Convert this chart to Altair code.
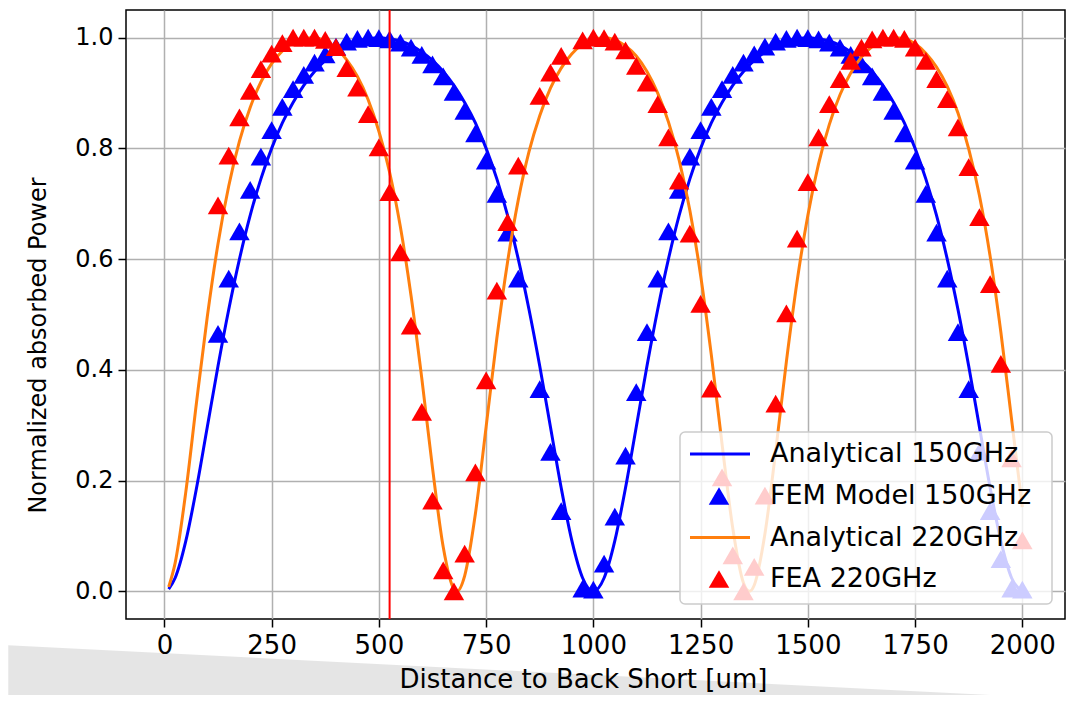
import altair as alt
import pandas as pd

# ---------------- data ----------------
# analytical curves (sample positions in um)
x_a150 = [10] + list(range(25, 2001, 25))
analytical_150 = [0.004,
    0.024, 0.091, 0.187, 0.297, 0.407, 0.509, 0.600, 0.679, 0.745, 0.800,
    0.846, 0.883, 0.914, 0.939, 0.959, 0.974, 0.986, 0.994, 0.998, 1.000,
    0.998, 0.994, 0.986, 0.974, 0.959, 0.939, 0.914, 0.883, 0.846, 0.800,
    0.745, 0.679, 0.600, 0.509, 0.407, 0.297, 0.187, 0.091, 0.024, 0.000,
    0.024, 0.091, 0.187, 0.297, 0.407, 0.509, 0.600, 0.679, 0.745, 0.800,
    0.846, 0.883, 0.914, 0.939, 0.959, 0.974, 0.986, 0.994, 0.998, 1.000,
    0.998, 0.994, 0.986, 0.974, 0.959, 0.939, 0.914, 0.883, 0.846, 0.800,
    0.745, 0.679, 0.600, 0.509, 0.407, 0.297, 0.187, 0.091, 0.024, 0.000]

x_a220 = ([10] + list(range(25, 676, 25)) + [682] + list(range(700, 1351, 25))
          + [1364] + list(range(1375, 2001, 25)))
analytical_220 = [0.008,
    0.051, 0.180, 0.342, 0.496, 0.628, 0.732, 0.813, 0.874, 0.920, 0.953,
    0.976, 0.991, 0.999, 1.000, 0.994, 0.981, 0.960, 0.930, 0.888, 0.831,
    0.757, 0.659, 0.534, 0.385, 0.223, 0.080, 0.004, 0.000,
    0.028, 0.140, 0.297, 0.457, 0.595, 0.707, 0.794, 0.859, 0.909, 0.945,
    0.971, 0.988, 0.997, 1.000, 0.996, 0.985, 0.967, 0.939, 0.900, 0.848,
    0.779, 0.688, 0.571, 0.427, 0.266, 0.114, 0.015, 0.000,
    0.011, 0.104, 0.253, 0.415, 0.560, 0.679, 0.772, 0.843, 0.897, 0.936,
    0.965, 0.984, 0.995, 1.000, 0.998, 0.989, 0.972, 0.947, 0.912, 0.864,
    0.799, 0.715, 0.605, 0.468, 0.310, 0.152]

# simulated points (no points at 850 and 950 um)
x_fem = list(range(125, 826, 25)) + [875, 900, 925] + list(range(975, 2001, 25))
fem_150 = [
    0.465, 0.565, 0.650, 0.725, 0.785, 0.833, 0.875, 0.907, 0.933, 0.955,
    0.970, 0.984, 0.993, 0.998, 1.000, 0.999, 0.997, 0.991, 0.982, 0.969,
    0.952, 0.930, 0.902, 0.868, 0.827, 0.778, 0.718, 0.648, 0.565,
    0.365, 0.252, 0.145,
    0.005, 0.003, 0.050, 0.135, 0.245, 0.360, 0.468,
    0.565, 0.650, 0.725, 0.785, 0.833, 0.875, 0.907, 0.933, 0.955, 0.970,
    0.984, 0.993, 0.998, 1.000, 0.999, 0.997, 0.991, 0.982, 0.969, 0.952,
    0.930, 0.902, 0.868, 0.827, 0.778, 0.718, 0.648, 0.565, 0.468, 0.365,
    0.252, 0.145, 0.058, 0.005, 0.003]
fea_220 = [
    0.697, 0.787, 0.856, 0.904, 0.943, 0.971, 0.990, 1.000, 1.000, 1.000,
    0.996, 0.983, 0.945, 0.910, 0.862, 0.802, 0.721, 0.612, 0.480, 0.324,
    0.164, 0.038, 0.000, 0.068, 0.215, 0.381, 0.543, 0.667, 0.769,
    0.895, 0.937, 0.967,
    0.995, 1.000, 0.999, 0.993, 0.977, 0.949, 0.919, 0.880, 0.820, 0.742,
    0.646, 0.519, 0.366, 0.206, 0.065, 0.000, 0.044, 0.173, 0.339, 0.502,
    0.637, 0.739, 0.820, 0.880, 0.925, 0.958, 0.982, 0.997, 1.000, 1.000,
    0.998, 0.982, 0.958, 0.925, 0.889, 0.838, 0.766, 0.676, 0.555, 0.411,
    0.240, 0.092]

marker_x = [525]

x_ticks = [0, 250, 500, 750, 1000, 1250, 1500, 1750, 2000]
y_ticks = [0.0, 0.2, 0.4, 0.6, 0.8, 1.0]

legend_labels = ["Analytical 150GHz", "FEM Model 150GHz",
                 "Analytical 220GHz", "FEA 220GHz"]

# light page shadow below the axes (slide background), in data units
shadow_x = [-364, 1944]
shadow_top = [-0.0975, -0.188]
shadow_bottom = [-0.25, -0.25]

BLUE = "#0000ff"
ORANGE = "#ff7f0e"
RED = "#ff0000"
FONT = "DejaVu Sans"

W, H = 939, 609

df150 = pd.DataFrame({"x": x_a150, "y": analytical_150})
df220 = pd.DataFrame({"x": x_a220, "y": analytical_220})
dffem = pd.DataFrame({"x": x_fem, "y": fem_150})
dffea = pd.DataFrame({"x": x_fem, "y": fea_220})
dfmark = pd.DataFrame({"x": marker_x})
dfshadow = pd.DataFrame({"x": shadow_x, "y": shadow_top, "y2": shadow_bottom})

xscale = alt.Scale(domain=[-89.5, 2099.5], nice=False, zero=False)
yscale = alt.Scale(domain=[-0.05, 1.05], nice=False, zero=False)

xaxis = alt.Axis(values=x_ticks, title="Distance to Back Short [um]",
                 grid=True, format="d", labelFontSize=26, titleFontSize=26,
                 titleX=457, titleY=47)
yaxis = alt.Axis(values=y_ticks, title="Normalized absorbed Power",
                 grid=True, format=".1f", labelFontSize=24, titleFontSize=24,
                 titleY=335, titlePadding=24)

X = alt.X("x:Q", scale=xscale, axis=xaxis)
Y = alt.Y("y:Q", scale=yscale, axis=yaxis)
Xn = alt.X("x:Q", scale=xscale)
Yn = alt.Y("y:Q", scale=yscale)

shadow = alt.Chart(dfshadow).mark_area(color="black", opacity=0.1, clip=False).encode(
    x=Xn, y=Yn, y2=alt.Y2("y2:Q"))
line150 = alt.Chart(df150).mark_line(color=BLUE, strokeWidth=3,
                                     interpolate="monotone", clip=True).encode(x=X, y=Y)
pts150 = alt.Chart(dffem).mark_point(shape="triangle-up", filled=True, size=420,
                                     color=BLUE, opacity=1, clip=True).encode(x=Xn, y=Yn)
line220 = alt.Chart(df220).mark_line(color=ORANGE, strokeWidth=3,
                                     interpolate="monotone", clip=True).encode(x=Xn, y=Yn)
pts220 = alt.Chart(dffea).mark_point(shape="triangle-up", filled=True, size=420,
                                     color=RED, opacity=1, clip=True).encode(x=Xn, y=Yn)
vline = alt.Chart(dfmark).mark_rule(color=RED, strokeWidth=2).encode(x=Xn)

# ---------------- legend (drawn in pixel space of the plot) ----------------
one = pd.DataFrame({"d": [0]})
LFS = 27
lx0, lx1, ly0, ly1 = 554, 926, 422, 594
rows = [444, 486, 527.5, 569]
leg_box = alt.Chart(one).mark_rect(fill="white", fillOpacity=0.8, stroke="#cccccc",
                                   strokeWidth=1.5, cornerRadius=5).encode(
    x=alt.value(lx0), x2=alt.value(lx1), y=alt.value(ly0), y2=alt.value(ly1))
leg_l1 = alt.Chart(one).mark_rule(color=BLUE, strokeWidth=3).encode(
    x=alt.value(564), x2=alt.value(624), y=alt.value(rows[0]))
leg_l2 = alt.Chart(one).mark_rule(color=ORANGE, strokeWidth=3).encode(
    x=alt.value(564), x2=alt.value(624), y=alt.value(rows[2]))
leg_p1 = alt.Chart(one).mark_point(shape="triangle-up", filled=True, size=420,
                                   color=BLUE, opacity=1).encode(
    x=alt.value(593), y=alt.value(rows[1]))
leg_p2 = alt.Chart(one).mark_point(shape="triangle-up", filled=True, size=420,
                                   color=RED, opacity=1).encode(
    x=alt.value(593), y=alt.value(rows[3]))
leg_texts = [
    alt.Chart(one).mark_text(text=lab, align="left", baseline="middle",
                             font=FONT, fontSize=LFS, color="black").encode(
        x=alt.value(644), y=alt.value(r))
    for lab, r in zip(legend_labels, rows)
]

chart = alt.layer(
    shadow, line150, pts150, line220, pts220, vline,
    leg_box, leg_l1, leg_p1, leg_l2, leg_p2, *leg_texts
).properties(
    width=W, height=H,
    autosize=alt.AutoSizeParams(type="none"),
    padding={"left": 118, "top": 2, "right": 8, "bottom": 76},
    background="white",
).configure_view(
    stroke="black", strokeWidth=1.5
).configure_axis(
    domain=False,
    gridColor="#b0b0b0", gridWidth=1.5, gridOpacity=1,
    tickColor="black", tickWidth=1.5, tickSize=8,
    labelFont=FONT, labelColor="black", labelPadding=5,
    titleFont=FONT, titleColor="black", titleFontWeight="normal",
)

chart.save("out.html", embed_options={"renderer": "svg", "actions": False})
